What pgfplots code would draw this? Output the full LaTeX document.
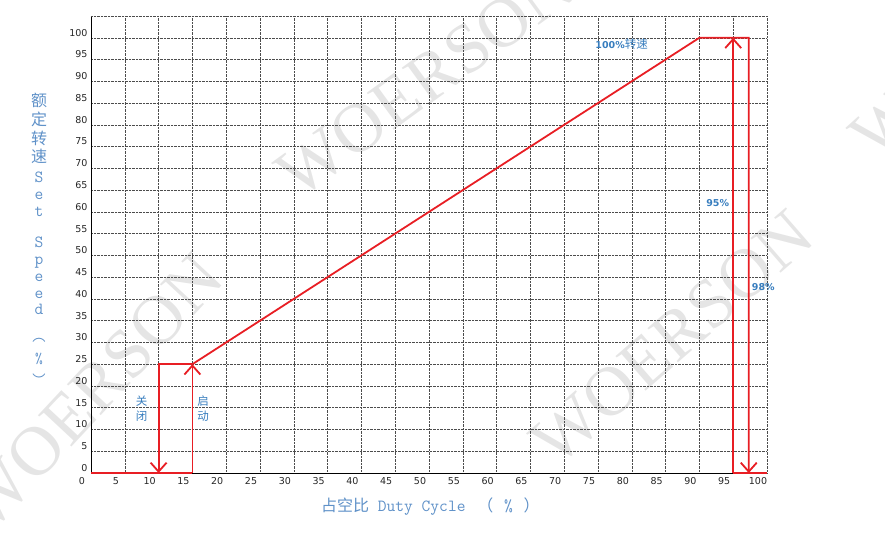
\documentclass[border=0pt]{standalone}
\usepackage{fontspec}
\setmainfont{DejaVu Sans}
\newfontfamily\cjk{Noto Sans CJK SC}
\newfontfamily\wmfont{Liberation Serif}
\usepackage{pgfplots}
\pgfplotsset{compat=1.18}
\usetikzlibrary{arrows.meta}
\definecolor{redline}{RGB}{232,30,36}
\definecolor{lblue}{RGB}{55,125,190}
\definecolor{ablue}{RGB}{95,145,200}
\tikzset{rl/.style={draw=redline, line width=1.8pt, line join=miter, mark=none},
  rla/.style={rl, -{Straight Barb[length=9pt,width=16pt]}}}
\begin{document}
\begin{tikzpicture}
\path[use as bounding box] (0pt,0pt) rectangle (885pt,543pt);
% watermarks
\foreach \cx/\cy/\ang in {425/80/36, 672/338/41, 92/392/47, 990/30/42} {
  \node[rotate=\ang, text=black!10, font=\wmfont\fontsize{70}{70}\selectfont] at (\cx pt, 543pt-\cy pt) {WOERSON};
}
\begin{axis}[
  at={(91pt,70pt)}, anchor=south west, scale only axis,
  width=676pt, height=457pt,
  xmin=0, xmax=100, ymin=0, ymax=105,
  xtick={0,5,...,100}, ytick={0,5,...,100},
  extra y ticks={105}, extra y tick labels={}, extra y tick style={grid=major},
  grid=major,
  major grid style={densely dotted, black!70, line width=0.5pt},
  axis lines=left, axis line style={-, black, line width=0.8pt},
  major tick length=0pt,
  tick label style={font=\fontsize{9.5}{11}\selectfont, text=black!85},
  xticklabel style={xshift=-9pt, yshift=-1pt},
  yticklabel style={yshift=5pt},
  /pgf/number format/assume math mode=true,
  clip=false,
]
\addplot[rl] coordinates {(0,0) (15,0)};
\addplot[rla] coordinates {(15,25) (10,25) (10,0)};
\addplot[rla] coordinates {(15,0) (15,25)};
\addplot[rla] coordinates {(15,25) (90,100) (97.3,100) (97.3,0)};
\addplot[rla] coordinates {(95,0) (95,100)};
\addplot[rl] coordinates {(95,0) (100,0)};
\node[align=center, text=lblue, font=\cjk\fontsize{11.5}{14.5}\selectfont] at (axis cs:7.5,14.75) {关\\闭};
\node[align=center, text=lblue, font=\cjk\fontsize{11.5}{14.5}\selectfont] at (axis cs:16.6,14.75) {启\\动};
\node[text=lblue, font=\bfseries\fontsize{9.5}{11}\selectfont, inner sep=0pt] at (axis cs:78.5,98.5) {100\%{\cjk\mdseries\fontsize{11.5}{11}\selectfont 转速}};
\node[text=lblue, font=\bfseries\fontsize{9.5}{11}\selectfont] at (axis cs:92.7,62.1) {95\%};
\node[text=lblue, font=\bfseries\fontsize{9.5}{11}\selectfont] at (axis cs:99.45,42.7) {98\%};
\end{axis}
% x label
\node[anchor=west, text=ablue, inner sep=0pt] at (321pt,543pt-507pt) {{\cjk\fontsize{16}{16}\selectfont 占空比}{\ttfamily\fontsize{17}{16}\selectfont\ Duty Cycle\ }\hspace{3pt}{\cjk\fontsize{16}{16}\selectfont （}\hspace{2pt}{\ttfamily\fontsize{17}{16}\selectfont\ \%\ }\hspace{2pt}{\cjk\fontsize{16}{16}\selectfont ）}};
% y label (vertical stack)
\foreach \c/\yy in {额/100.7, 定/119, 转/138, 速/156.5} {
  \node[text=ablue, font=\cjk\fontsize{16}{16}\selectfont] at (39pt,543pt-\yy pt) {\c};
}
\foreach \c/\yy in {S/178, e/195, t/212, S/243, p/260, e/277, e/293.5, d/310} {
  \node[text=ablue, font=\ttfamily\fontsize{17}{17}\selectfont, anchor=base] at (39pt,543pt-\yy pt-5pt) {\c};
}
\node[text=ablue, font=\ttfamily\fontsize{16}{16}\selectfont] at (39pt,543pt-340pt) {\rotatebox{-90}{(}};
\node[text=ablue, font=\ttfamily\fontsize{15}{16}\selectfont] at (39pt,543pt-359pt) {\%};
\node[text=ablue, font=\ttfamily\fontsize{16}{16}\selectfont] at (39pt,543pt-377pt) {\rotatebox{-90}{)}};
\end{tikzpicture}
\end{document}
